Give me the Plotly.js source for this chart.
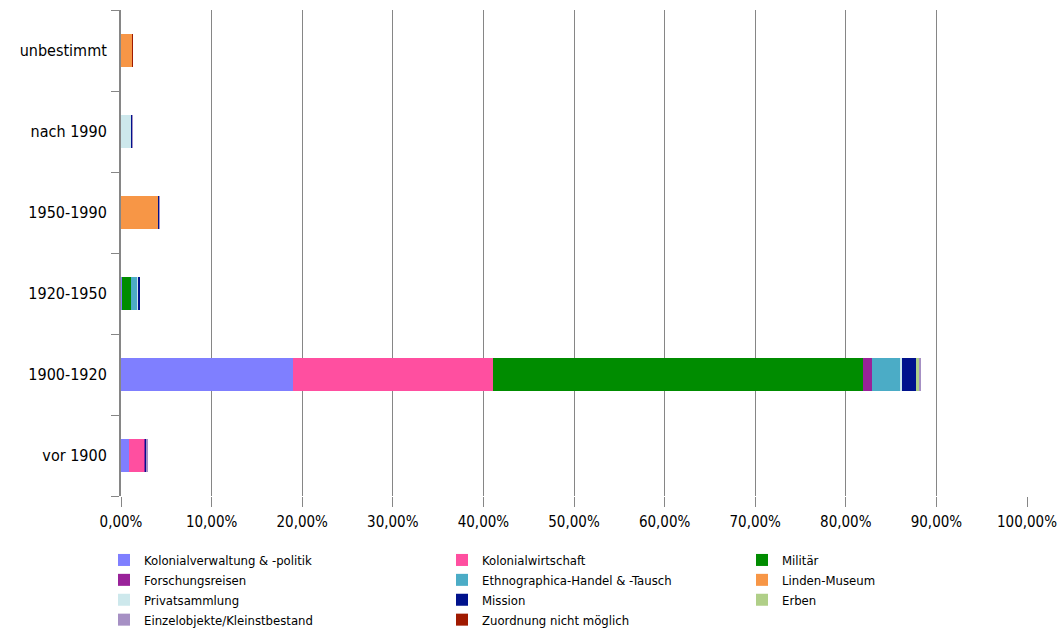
<!DOCTYPE html>
<html>
<head>
<meta charset="utf-8">
<script src="https://cdn.plot.ly/plotly-3.0.1.min.js"></script>
<style>html,body{margin:0;padding:0;background:#fff;}#chart{width:1063px;height:630px;}</style>
</head>
<body>
<div id="chart"></div>
<script>
// Categories (bottom to top)
var periods = ["vor 1900", "1900-1920", "1920-1950", "1950-1990", "nach 1990", "unbestimmt"];

// Series values in percent, per period (same order as periods)
var kolonialverwaltung = [0.9, 19.0, 0.15, 0, 0, 0];
var kolonialwirtschaft = [1.6, 22.1, 0, 0, 0, 0];
var militaer          = [0, 40.85, 1.0, 0, 0, 0];
var forschungsreisen  = [0.1, 0.9, 0, 0, 0, 0];
var ethnographica     = [0, 3.1, 0.6, 0, 0, 0];
var lindenMuseum      = [0, 0, 0, 4.1, 0, 1.25];
var privatsammlung    = [0, 0.3, 0.1, 0, 1.1, 0];
var mission           = [0.15, 1.55, 0.2, 0.1, 0.12, 0];
var erben             = [0, 0.3, 0, 0, 0, 0];
var einzelobjekte     = [0.2, 0.25, 0.1, 0.15, 0.15, 0];
var zuordnung         = [0, 0, 0, 0, 0, 0.1];

var seriesNames = ["Kolonialverwaltung & -politik", "Kolonialwirtschaft", "Militär",
  "Forschungsreisen", "Ethnographica-Handel & -Tausch", "Linden-Museum",
  "Privatsammlung", "Mission", "Erben", "Einzelobjekte/Kleinstbestand", "Zuordnung nicht möglich"];
var seriesValues = [kolonialverwaltung, kolonialwirtschaft, militaer, forschungsreisen, ethnographica,
  lindenMuseum, privatsammlung, mission, erben, einzelobjekte, zuordnung];
var seriesColors = ["#7F7FFF", "#FF4FA0", "#008C00", "#992299", "#4BACC6", "#F79646",
  "#CDE8EC", "#00128C", "#B0CF88", "#A690C4", "#A01A00"];
// legend column of each series
var legendCols = ["legend", "legend2", "legend3", "legend", "legend2", "legend3",
  "legend", "legend2", "legend3", "legend", "legend2"];

var FONT = "'Liberation Sans Narrow', 'DejaVu Sans Condensed', 'Roboto Condensed', 'Arial Narrow', sans-serif";

var traces = seriesNames.map(function (n, i) {
  return {
    type: "bar",
    orientation: "h",
    name: n,
    y: periods,
    x: seriesValues[i],
    marker: {color: seriesColors[i], line: {width: 0}},
    legend: legendCols[i],
    hoverinfo: "name+x"
  };
});

function legendAt(px) {
  return {
    x: px / 1063, xref: "container", y: 1 - 545 / 630, yref: "container", xanchor: "left", yanchor: "top",
    orientation: "v", traceorder: "normal", font: {family: FONT, size: 13, color: "#000"},
    bgcolor: "rgba(0,0,0,0)", itemwidth: 30, tracegroupgap: 0
  };
}

var layout = {
  width: 1063, height: 630,
  margin: {l: 121, r: 36, t: 10, b: 134, autoexpand: false},
  paper_bgcolor: "#fff", plot_bgcolor: "#fff",
  barmode: "stack",
  bargap: 0.6,
  font: {family: FONT, size: 15, color: "#000"},
  separators: ",.",
  xaxis: {
    range: [0, 100], dtick: 10, tick0: 0,
    tickformat: ".2f", ticksuffix: "%",
    showgrid: true, gridcolor: "#868686", gridwidth: 1,
    zeroline: false, showline: false,
    ticks: "outside", ticklen: 10, tickcolor: "#868686", tickwidth: 1,
    ticklabelstandoff: 2,
    tickfont: {family: FONT, size: 15, color: "#000"},
    fixedrange: true
  },
  yaxis: {
    type: "category", categoryorder: "array", categoryarray: periods,
    showline: true, linecolor: "#868686", linewidth: 2,
    showgrid: false, zeroline: false,
    ticks: "outside", tickson: "boundaries", ticklen: 8, tickcolor: "#868686", tickwidth: 1,
    ticklabelstandoff: 9,
    tickfont: {family: FONT, size: 16, color: "#000"},
    fixedrange: true
  },
  showlegend: true,
  legend: legendAt(104),
  legend2: legendAt(442),
  legend3: legendAt(742)
};

Plotly.newPlot("chart", traces, layout, {displayModeBar: false, staticPlot: true});
</script>
</body>
</html>
